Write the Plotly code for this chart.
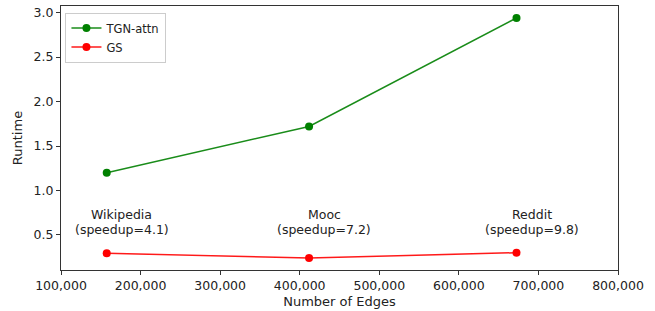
import plotly.graph_objects as go

datasets = ["Wikipedia", "Mooc", "Reddit"]
edges = [157474, 411749, 672447]
tgn_attn = [1.20, 1.72, 2.94]
gs = [0.293, 0.239, 0.300]
speedups = ["4.1", "7.2", "9.8"]
x_ticks = [100000, 200000, 300000, 400000, 500000, 600000, 700000, 800000]
y_ticks = [0.5, 1.0, 1.5, 2.0, 2.5, 3.0]

font = "DejaVu Sans"
fig = go.Figure()
fig.add_trace(go.Scatter(x=edges, y=tgn_attn, mode="lines+markers", name="TGN-attn",
                         line=dict(color="rgba(0,128,0,0.9)", width=1.5),
                         marker=dict(color="green", size=8)))
fig.add_trace(go.Scatter(x=edges, y=gs, mode="lines+markers", name="GS",
                         line=dict(color="rgba(255,0,0,0.9)", width=1.5),
                         marker=dict(color="red", size=8)))

for d, e, s in zip(datasets, edges, speedups):
    fig.add_annotation(x=e, y=0.5, xshift=15, yshift=20, text=d,
                       showarrow=False, xanchor="center", yanchor="middle",
                       font=dict(family=font, size=12.5, color="#222"))
    fig.add_annotation(x=e, y=0.5, xshift=15, yshift=5, text=f"(speedup={s})",
                       showarrow=False, xanchor="center", yanchor="middle",
                       font=dict(family=font, size=12.5, color="#222"))

axis_common = dict(showgrid=False, zeroline=False, showline=True, linecolor="#333",
                   linewidth=1, mirror=True, ticks="outside", ticklen=4, tickcolor="#333",
                   automargin=False,
                   tickfont=dict(family=font, size=12.5, color="#222"))
fig.update_xaxes(range=[100000, 800000], tickvals=x_ticks,
                 ticktext=[f"{v:,}" for v in x_ticks],
                 title=dict(text="Number of Edges", font=dict(family=font, size=13, color="#222"), standoff=4),
                 **axis_common)
fig.update_yaxes(range=[0.105, 3.075], tickvals=y_ticks,
                 ticktext=[f"{v:.1f}" for v in y_ticks],
                 title=dict(text="Runtime", font=dict(family=font, size=13, color="#222"), standoff=8),
                 **axis_common)
fig.update_layout(width=655, height=311, margin=dict(l=61, r=37, t=6, b=41),
                  plot_bgcolor="white", paper_bgcolor="white",
                  legend=dict(x=0.008, y=0.975, xanchor="left", yanchor="top",
                              bordercolor="#ccc", borderwidth=1, bgcolor="rgba(255,255,255,0.8)",
                              font=dict(family=font, size=11.5, color="#222"),
                              tracegroupgap=0, itemwidth=30),
                  showlegend=True)
fig.write_html("out.html", config={"displayModeBar": False},
               post_script="document.body.style.margin='0';")
